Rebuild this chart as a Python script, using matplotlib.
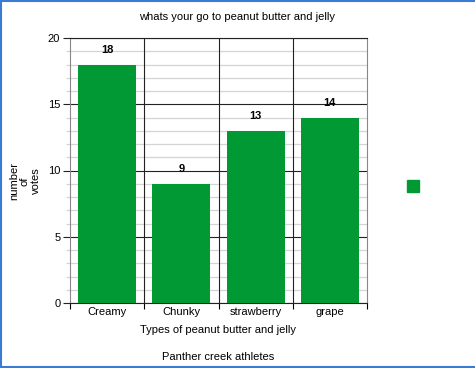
import matplotlib
matplotlib.use("Agg")
import matplotlib.pyplot as plt
from matplotlib.patches import Rectangle
from matplotlib.lines import Line2D
import numpy as np

categories = ["Creamy", "Chunky", "strawberry", "grape"]
votes = [18, 9, 13, 14]
title = "whats your go to peanut butter and jelly"
xlabel = "Types of peanut butter and jelly"
ylabel = "number\nof\nvotes"
footer = "Panther creek athletes"

W, H = 475, 368
fig = plt.figure(figsize=(W/100, H/100), dpi=100)
plt.rcParams['font.family'] = ['Liberation Sans', 'DejaVu Sans']
fs = 8

green = "#009933"
ax = fig.add_axes([70/W, 1-303/H, (367-70)/W, (303-38)/H])
x = np.arange(len(categories))
ax.bar(x, votes, width=0.78, color=green, zorder=3)
ax.set_xlim(-0.5, len(categories)-0.5)
ax.set_ylim(0, 20)
ax.set_yticks([0, 5, 10, 15, 20])
ax.set_yticks(np.arange(0, 21, 1), minor=True)
ax.yaxis.grid(True, which='minor', color='#d4d4d4', lw=0.9, zorder=1)
ax.yaxis.grid(True, which='major', color='#222222', lw=0.8, zorder=2)
ax.set_xticks(x)
ax.set_xticklabels(categories, fontsize=fs)
for b in np.arange(0.5, len(categories)-0.5, 1):
    ax.axvline(b, color='#222222', lw=0.8, zorder=2)
for i, v in enumerate(votes):
    ax.text(i, v + 0.7, str(v), ha='center', va='bottom', fontsize=fs, fontweight='bold', zorder=4)
ax.tick_params(axis='y', labelsize=fs, length=5, width=0.8, pad=2, color='#222222')
ax.tick_params(axis='y', which='minor', length=3, color='#d4d4d4', width=0.9)
ax.tick_params(axis='x', length=0, pad=3)
ax.set_xticks(np.arange(-0.5, len(categories), 1), minor=True)
ax.tick_params(axis='x', which='minor', length=4, width=0.8, direction='out')
for s in ['left', 'right', 'top', 'bottom']:
    ax.spines[s].set_color('#222222')
    ax.spines[s].set_linewidth(0.8)
ax.spines['right'].set_color('#888888')
ax.spines['left'].set_color('#888888')

fig.text(237/W, 1-17/H, title, ha='center', va='center', fontsize=fs)
fig.text(218/W, 1-330/H, xlabel, ha='center', va='center', fontsize=fs)
fig.text(218/W, 1-357/H, footer, ha='center', va='center', fontsize=fs)
fig.text(25/W, 1-181/H, ylabel, ha='center', va='center', rotation=90, fontsize=fs, linespacing=1.1)

fig.patches.append(Rectangle((407/W, 1-192/H), 12/W, 12/H, transform=fig.transFigure, color=green))
bc = '#3a7bd5'
fig.lines.append(Line2D([0, 1], [1-0.8/H, 1-0.8/H], transform=fig.transFigure, color=bc, lw=1.5))
fig.lines.append(Line2D([0, 1], [0.8/H, 0.8/H], transform=fig.transFigure, color=bc, lw=1.5))
fig.lines.append(Line2D([0.8/W, 0.8/W], [0, 1], transform=fig.transFigure, color=bc, lw=1.5))
fig.savefig("out.png", dpi=100)
